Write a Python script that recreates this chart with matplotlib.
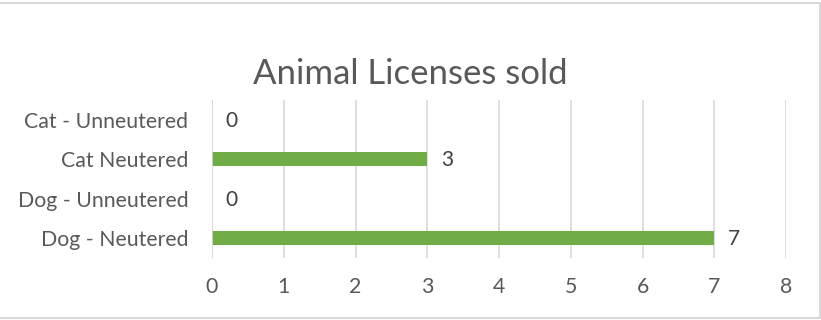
import matplotlib
matplotlib.use("Agg")
import matplotlib.pyplot as plt
from matplotlib.patches import Rectangle

categories = ["Dog - Neutered", "Dog - Unneutered", "Cat Neutered", "Cat - Unneutered"]
licenses_sold = [7, 0, 3, 0]
x_ticks = [0, 1, 2, 3, 4, 5, 6, 7, 8]

plt.rcParams["font.family"] = ["Lato", "DejaVu Sans"]
text_color = "#595959"
bar_color = "#70AD47"
grid_color = "#D9D9D9"

fig = plt.figure(figsize=(8.21, 3.2), dpi=100)
ax = fig.add_axes([212 / 821, 1 - 258 / 320, (786 - 212) / 821, (258 - 100) / 320])

ypos = list(range(len(categories)))
ax.barh(ypos, licenses_sold, height=0.36, color=bar_color, zorder=3)
for y, v in zip(ypos, licenses_sold):
    ax.text(v + 0.19, y - 0.03, str(v), va="center", ha="left",
            fontsize=15, color="#404040")

ax.set_xlim(x_ticks[0], x_ticks[-1])
ax.set_ylim(-0.5, len(categories) - 0.5)
ax.set_xticks(x_ticks)
ax.set_xticklabels([str(t) for t in x_ticks])
ax.set_yticks(ypos)
ax.set_yticklabels(categories)
ax.tick_params(axis="both", length=0, labelsize=15.3, colors=text_color)
ax.tick_params(axis="x", pad=14)
ax.tick_params(axis="y", pad=17)
ax.xaxis.grid(True, color=grid_color, linewidth=1.2, zorder=0)
for s in ax.spines.values():
    s.set_visible(False)
ax.axvline(0, color=grid_color, linewidth=1.2, zorder=4)

fig.text(0.5, 1 - 74 / 320, "Animal Licenses sold", ha="center", va="center",
         fontsize=25, color=text_color)

fig.patches.append(Rectangle((-0.01, 2.5 / 320), 1.0 + 0.01 - 1.0 / 821, 1 - 5 / 320,
                             transform=fig.transFigure, fill=False,
                             edgecolor="#D9D9D9", linewidth=1.5))

fig.savefig("out.png", dpi=100)
